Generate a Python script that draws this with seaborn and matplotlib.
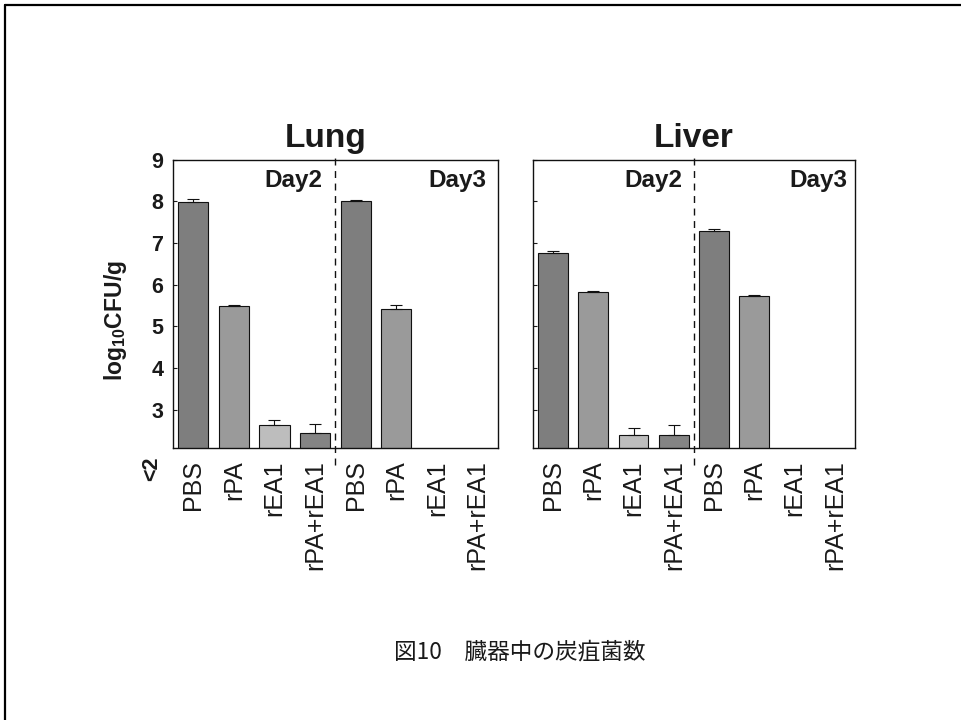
import matplotlib
matplotlib.use("Agg")
import matplotlib.pyplot as plt
import seaborn as sns
import pandas as pd
import numpy as np
from matplotlib.lines import Line2D
from matplotlib.transforms import blended_transform_factory

sns.set_theme(style="white")
plt.rcParams['font.family'] = ['Liberation Sans', 'DejaVu Sans']
plt.rcParams['mathtext.fontset'] = 'custom'
plt.rcParams['mathtext.rm'] = 'Liberation Sans'
plt.rcParams['mathtext.bf'] = 'Liberation Sans:bold'
for k in ['text.color', 'axes.labelcolor', 'xtick.color', 'ytick.color']:
    plt.rcParams[k] = '#1a1a1a'

# ---- data ----
treatments = ["PBS", "rPA", "rEA1", "rPA+rEA1"]
days = ["Day2", "Day3"]
lung_values = [7.98, 5.50, 2.62, 2.44, 8.02, 5.42, np.nan, np.nan]
lung_errors = [0.09, 0.01, 0.14, 0.22, 0.02, 0.09, np.nan, np.nan]
liver_values = [6.76, 5.82, 2.38, 2.38, 7.28, 5.74, np.nan, np.nan]
liver_errors = [0.06, 0.04, 0.18, 0.25, 0.06, 0.02, np.nan, np.nan]
organs = ["Lung", "Liver"]
yticks = [3, 4, 5, 6, 7, 8, 9]
ylabel_bottom = "<2"
caption = "図10\u3000臓器中の炭疽菌数"

palette = {"PBS": "#7e7e7e", "rPA": "#9a9a9a", "rEA1": "#bdbdbd", "rPA+rEA1": "#848484"}

cats = [f"{d} {t}" for d in days for t in treatments]
tick_labels = [t for d in days for t in treatments]

fig = plt.figure(figsize=(9.61, 7.2), dpi=100)
axes = [fig.add_axes([0.180, 0.378, 0.338, 0.400]),
        fig.add_axes([0.5546, 0.378, 0.3351, 0.400])]

YMIN, YMAX = 2.08, 9.0
day_text_x = [[3.19, 7.23], [3.2, 7.3]]
title_x = [0.47, 0.5]

for i, (ax, organ, vals, errs) in enumerate(zip(axes, organs,
                                                [lung_values, liver_values],
                                                [lung_errors, liver_errors])):
    df = pd.DataFrame({"cat": cats, "treat": tick_labels, "val": vals, "err": errs})
    dfp = df.dropna()
    sns.barplot(data=dfp, x="cat", y="val", hue="treat", order=cats,
                hue_order=treatments, palette=palette, dodge=False, width=0.74,
                edgecolor="#111111", linewidth=0.8, legend=False, ax=ax,
                errorbar=None)
    xpos = [cats.index(c) for c in dfp["cat"]]
    ax.errorbar(xpos, dfp["val"], yerr=[np.zeros(len(dfp)), dfp["err"]],
                fmt="none", ecolor="#111111", elinewidth=0.8, capsize=4, capthick=0.8)
    ax.set_ylim(YMIN, YMAX)
    ax.set_xlim(-0.5, 7.5)
    ax.set_yticks(yticks)
    ax.set_xticks(range(len(cats)))
    ax.set_xticklabels(tick_labels, rotation=90, fontsize=18, va="top", ha="center")
    ax.tick_params(axis="x", length=0, pad=9)
    ax.tick_params(axis="y", direction="in", length=3, width=0.8, left=True, pad=7)
    ax.set_xlabel("")
    ax.set_ylabel("")
    for s in ax.spines.values():
        s.set_color("#111111")
        s.set_linewidth(1.0)
    ax.set_title(organ, fontsize=24, fontweight="bold", pad=9, x=title_x[i])
    ax.axvline(3.5, ymin=-0.06, ymax=1.01, color="#111111", linestyle=(0, (5, 4)),
               linewidth=1.0, clip_on=False)
    trans = blended_transform_factory(ax.transData, ax.transAxes)
    for j, d in enumerate(days):
        ax.text(day_text_x[i][j], 0.906, d, transform=trans, ha="right",
                va="baseline", fontsize=17.5, fontweight="bold")
    if i == 0:
        ax.set_yticklabels([str(t) for t in yticks], fontsize=15.5, fontweight="bold")
        ax.text(-0.065, -0.03, ylabel_bottom, transform=ax.transAxes, rotation=90,
                ha="center", va="top", fontsize=15.5, fontweight="bold")
        ax.set_ylabel(r"log$_{\mathbf{10}}$CFU/g", fontsize=16.5, fontweight="bold")
        ax.yaxis.set_label_coords(-0.135, 0.44)
    else:
        ax.set_yticklabels([])

fig.text(0.541, 0.094, caption, ha="center", va="center", fontsize=16.3,
         family=["Noto Sans CJK JP", "DejaVu Sans"])

# page frame (top and left edges)
fig.add_artist(Line2D([5/961, 1.0], [1-5/720, 1-5/720], color="black", linewidth=1.6,
                      transform=fig.transFigure))
fig.add_artist(Line2D([5/961, 5/961], [0.0, 1-5/720], color="black", linewidth=1.6,
                      transform=fig.transFigure))

fig.savefig("out.png", dpi=100, facecolor="white")
